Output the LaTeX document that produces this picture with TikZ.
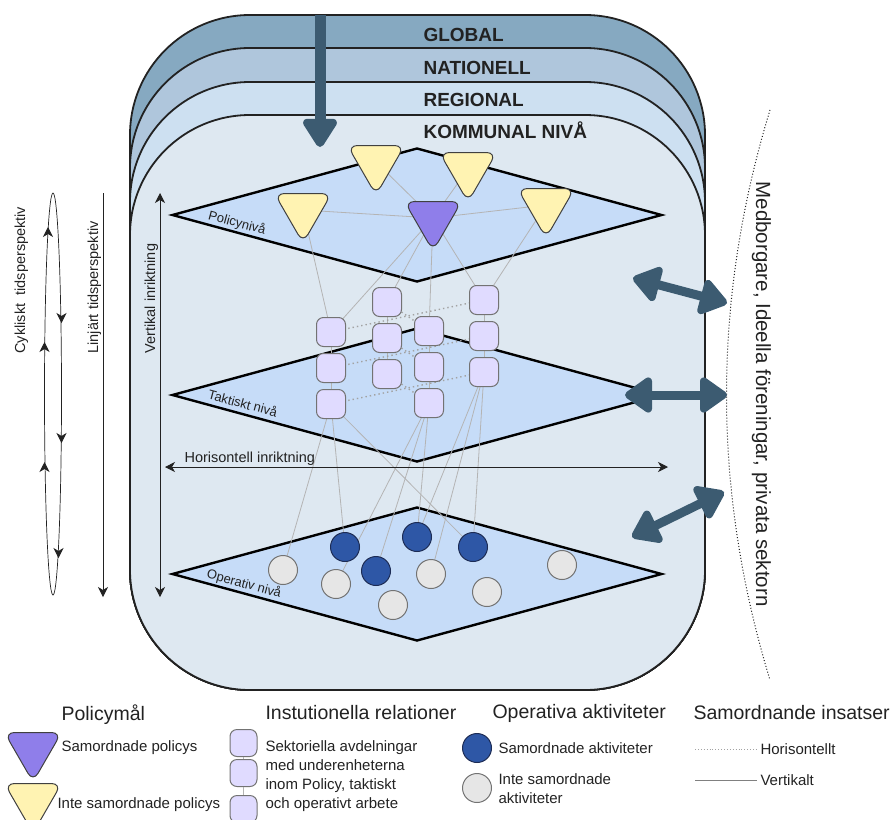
\documentclass[tikz,border=0pt]{standalone}
\usepackage{fontspec}
\setmainfont{Liberation Sans}
\usetikzlibrary{arrows.meta,positioning,shapes.geometric}

\definecolor{lvlglobal}{HTML}{86A9C1}
\definecolor{lvlnational}{HTML}{AFC6DC}
\definecolor{lvlregional}{HTML}{CDE0F1}
\definecolor{lvllocal}{HTML}{DEE8F1}
\definecolor{planeblue}{HTML}{C6DCF8}
\definecolor{slate}{HTML}{3C5B71}
\definecolor{policypurple}{HTML}{8F7EEA}
\definecolor{policyyellow}{HTML}{FFF3B2}
\definecolor{unitlilac}{HTML}{E0DBFF}
\definecolor{actblue}{HTML}{2E57A6}
\definecolor{actdark}{HTML}{1D2C55}
\definecolor{actgray}{HTML}{E6E6E6}
\definecolor{linkgray}{HTML}{B4B4B4}
\definecolor{ink}{HTML}{222222}

\pgfdeclarelayer{base}
\pgfdeclarelayer{links}
\pgfsetlayers{base,links,main}

\tikzset{
  level/.style={draw=ink, line width=1.8pt, rounded corners=120pt, minimum width=575pt, inner sep=0pt},
  levelname/.style={font=\fontsize{19}{21}\selectfont\bfseries, text=ink, anchor=base west},
  plane/.style={diamond, draw=black, line width=2.4pt, fill=planeblue, minimum width=490pt, minimum height=134pt, inner sep=0pt},
  planename/.style={font=\fontsize{13}{15}\selectfont, text=ink, rotate=-15, inner sep=1pt},
  goal/.style={regular polygon, regular polygon sides=3, shape border rotate=180, draw=black!75, line width=1pt, rounded corners=10pt, minimum size=66pt, inner sep=0pt},
  policyok/.style={goal, fill=policypurple},
  policyno/.style={goal, fill=policyyellow},
  unit/.style={draw=black!55, line width=1pt, fill=unitlilac, rounded corners=7pt, minimum size=29pt, inner sep=0pt},
  act/.style={circle, line width=1pt, minimum size=29pt, inner sep=0pt},
  actok/.style={act, draw=actdark, fill=actblue},
  actno/.style={act, draw=black!55, fill=actgray},
  vlink/.style={draw=linkgray, line width=0.8pt},
  hlink/.style={draw=linkgray!90!black, line width=1.4pt, dash pattern=on 1.4pt off 3pt},
  dimarrow/.style={{Stealth[length=10pt,width=10pt,inset=3pt]}-{Stealth[length=10pt,width=10pt,inset=3pt]}, line width=0.8pt, draw=ink},
  timearrow/.style={-{Stealth[length=10pt,width=10pt,inset=3pt]}, line width=0.8pt, draw=ink},
  bigarrow/.style={draw=slate, fill=slate, line width=9pt, {Triangle[length=30pt,width=40pt,round]}-{Triangle[length=30pt,width=40pt,round]}},
  droparrow/.style={draw=slate, fill=slate, line width=11pt, -{Triangle[length=32pt,width=38pt,round]}},
  note/.style={font=\fontsize{14.5}{17}\selectfont, text=ink},
  legtitle/.style={font=\fontsize{19.5}{22}\selectfont, text=ink, anchor=west},
  legtext/.style={font=\fontsize{15}{19}\selectfont, text=ink, anchor=west, align=left}
}

\begin{document}
\begin{tikzpicture}[x=1pt,y=-1pt]
  \useasboundingbox (0,0) rectangle (893,819);

  \begin{pgfonlayer}{base}
    \node[level, fill=lvlglobal, minimum height=675pt] (global) at (417.5,352.5) {};
    \node[level, fill=lvlnational, minimum height=642pt] (national) at (417.5,369) {};
    \node[level, fill=lvlregional, minimum height=608pt] (regional) at (417.5,386) {};
    \node[level, fill=lvllocal, minimum height=575pt] (local) at (417.5,402.5) {};
    \node[plane] (pol) at (417,215) {};
    \node[plane] (tak) at (417,395) {};
    \node[plane] (ope) at (417,574) {};
  \end{pgfonlayer}

  \node[levelname] (nglobal) at (420,41) {GLOBAL};
  \node[levelname] (nnational) at (420,74) {NATIONELL};
  \node[levelname] (nregional) at (420,106) {REGIONAL};
  \node[levelname] (nlocal) at (420,138) {KOMMUNAL NIVÅ};

  \node[planename] (lpol) at (237,223) {Policynivå};
  \node[planename] (ltak) at (243,403) {Taktiskt nivå};
  \node[planename] (lope) at (244,584) {Operativ nivå};

  % policy goals
  \node[policyno] (y1) at (376,162) {};
  \node[policyno] (y2) at (468,169) {};
  \node[policyno] (y3) at (303,210) {};
  \node[policyno] (y4) at (546,205) {};
  \node[policyok] (pu) at (433,218) {};

  % sector units, three per column
  \foreach \c/\x/\y in {1/331/332, 2/387/302, 3/429/331, 4/484/300} {
    \node[unit] (c\c1) at (\x,\y) {};
    \node[unit] (c\c2) at (\x,\y+36) {};
    \node[unit] (c\c3) at (\x,\y+72) {};
  }

  % operative activities
  \node[actok] (b1) at (345,547) {};
  \node[actok] (b2) at (417,537) {};
  \node[actok] (b3) at (473,547) {};
  \node[actok] (b4) at (376,571) {};
  \node[actno] (g1) at (283,570) {};
  \node[actno] (g2) at (336,584) {};
  \node[actno] (g3) at (431,574) {};
  \node[actno] (g4) at (393,605) {};
  \node[actno] (g5) at (487,592) {};
  \node[actno] (g6) at (562,565) {};

  \begin{pgfonlayer}{links}
    \foreach \a/\b in {y1/pu, y2/pu, y3/pu, pu/y4, y3/c11, pu/c11, pu/c21, pu/c31, pu/c41, y4/c41}
      \draw[vlink] (\a.center) -- (\b.center);
    \foreach \c in {1,...,4}
      \draw[vlink] (c\c1.center) -- (c\c3.center);
    \foreach \r in {1,2,3} {
      \draw[hlink] (c1\r.center) -- (c4\r.center);
      \draw[hlink] (c2\r.center) -- (c3\r.center);
    }
    \foreach \a/\b in {c13/g1, c13/b1, c13/b3, c33/g2, c33/b4, c33/b2, c43/b2, c43/g3, c43/b3}
      \draw[vlink] (\a.center) -- (\b.center);
  \end{pgfonlayer}

  % directions
  \coordinate (hl) at (165,467);
  \coordinate (hr) at (668,467);
  \draw[dimarrow] (hl) -- (hr);
  \node[note, anchor=base west] (hlabel) at (181,462) {Horisontell inriktning};
  \coordinate (vt) at (160,193);
  \coordinate (vb) at (160,597);
  \draw[dimarrow] (vt) -- (vb);
  \node[note, rotate=90, anchor=base west] (vlabel) at (155,357) {Vertikal inriktning};

  % time perspectives
  \coordinate (lt) at (103,193);
  \coordinate (lb) at (103,597);
  \draw[timearrow] (lt) -- (lb);
  \node[note, rotate=90, anchor=base west] (llabel) at (98,357) {Linjärt tidsperspektiv};
  \node[ellipse, draw=ink, line width=0.7pt, minimum width=17pt, minimum height=402pt, inner sep=0pt] (cyc) at (53,394) {};
  \foreach \x/\y in {48/227, 44.5/342, 44.5/462}
    \draw[timearrow] (\x,\y+2) -- (\x,\y);
  \foreach \x/\y in {61.5/323, 61.5/443, 58.5/558}
    \draw[timearrow] (\x,\y-2) -- (\x,\y);
  \node[note, rotate=90, anchor=base west] (clabel) at (25,357) {Cykliskt~ tidsperspektiv};

  % top-down steering
  \coordinate (dtop) at (320,15);
  \coordinate (dtip) at (320,147);
  \draw[droparrow] (dtop) -- (dtip);

  % surrounding society
  \coordinate (stop) at (770,110);
  \coordinate (sbot) at (770,680);
  \draw[ink, line width=1pt, dash pattern=on 1pt off 2pt] (stop) .. controls (712,300) and (712,490) .. (sbot);
  \node[font=\fontsize{20.5}{24}\selectfont, text=ink, rotate=-90, anchor=base west] (society) at (756,178) {Medborgare, Ideella föreningar, privata sektorn};
  \coordinate (a1l) at (633,278);
  \coordinate (a1r) at (727,303);
  \coordinate (a2l) at (625,395);
  \coordinate (a2r) at (727,395);
  \coordinate (a3l) at (632,537);
  \coordinate (a3r) at (724,492);
  \draw[bigarrow] (a1l) -- (a1r);
  \draw[bigarrow] (a2l) -- (a2r);
  \draw[bigarrow] (a3l) -- (a3r);

  % legend
  \node[legtitle] (kpol) at (58,715) {Policymål};
  \node[policyok] (kpu) at (33,749) {};
  \node[legtext] (kput) at (58,748) {Samordnade policys};
  \node[policyno] (kye) at (33,800) {};
  \node[legtext] (kyet) at (54,805) {Inte samordnade policys};

  \node[legtitle] (kunit) at (262,713) {Instutionella relationer};
  \node[unit, minimum size=27pt] (ku1) at (243.5,743) {};
  \node[unit, minimum size=27pt] (ku2) at (243.5,773) {};
  \node[unit, minimum size=27pt] (ku3) at (243.5,809) {};
  \draw[vlink] (ku1) -- (ku2);
  \draw[vlink] (ku2) -- (ku3);
  \node[legtext, anchor=north west] (kunitt) at (262,737) {Sektoriella avdelningar\\med underenheterna\\inom Policy, taktiskt\\och operativt arbete};

  \node[legtitle] (kact) at (489,713) {Operativa aktiviteter};
  \node[actok] (kb) at (477,748) {};
  \node[legtext] (kbt) at (495,748) {Samordnade aktiviteter};
  \node[actno] (kg) at (477,788) {};
  \node[legtext] (kgt) at (495,789) {Inte samordnade\\aktiviteter};

  \node[legtitle] (kins) at (690,713) {Samordnande insatser};
  \node[legtext] (khor) at (757,749) {Horisontellt};
  \node[legtext] (kver) at (757,780) {Vertikalt};
  \coordinate (khs) at (695,749);
  \coordinate (kvs) at (695,780);
  \draw[hlink, line width=0.9pt, dash pattern=on 0.9pt off 2pt] (khs) -- (khor.west);
  \draw[vlink, draw=black!50] (kvs) -- (kver.west);
\end{tikzpicture}
\end{document}
